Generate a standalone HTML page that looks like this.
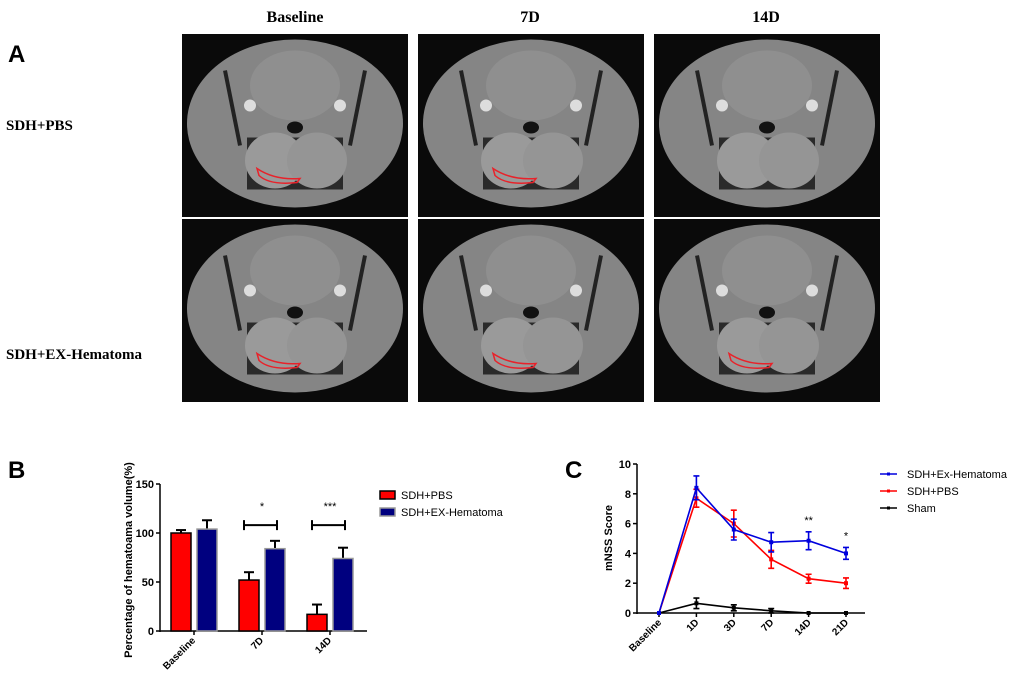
<!DOCTYPE html>
<html><head><meta charset="utf-8">
<style>
body{margin:0;background:#fff;width:1020px;height:681px;overflow:hidden;font-family:"Liberation Sans",sans-serif;}
svg{position:absolute;left:0;top:0}
</style></head>
<body>
<svg id="fig" width="1020" height="681" viewBox="0 0 1020 681">
<g>
<text x="8" y="62" font-size="24" font-weight="bold" font-family="Liberation Sans">A</text>
<text x="295" y="22" font-size="16" font-weight="bold" font-family="Liberation Serif" text-anchor="middle">Baseline</text>
<text x="530" y="22" font-size="16" font-weight="bold" font-family="Liberation Serif" text-anchor="middle">7D</text>
<text x="766" y="22" font-size="16" font-weight="bold" font-family="Liberation Serif" text-anchor="middle">14D</text>
<text x="6" y="130" font-size="15" font-weight="bold" font-family="Liberation Serif">SDH+PBS</text>
<text x="6" y="359" font-size="15" font-weight="bold" font-family="Liberation Serif">SDH+EX-Hematoma</text>
<g id="mri"></g>
</g>
<g id="chartB">
<text x="8" y="478" font-size="24" font-weight="bold">B</text>
</g>
<g id="chartC">
<text x="565" y="478" font-size="24" font-weight="bold">C</text>
</g>
</svg>
<script>
const NS="http://www.w3.org/2000/svg";
function mk(parent,tag,attrs,text){const e=document.createElementNS(NS,tag);for(const k in attrs)e.setAttribute(k,attrs[k]);if(text!==undefined)e.textContent=text;parent.appendChild(e);return e;}

// ---------- MRI panels ----------
const mri=document.getElementById('mri');
const colsX=[182,418,654], rowsY=[34,219];
rowsY.forEach((y0,ri)=>colsX.forEach((x0,ci)=>{
  const g=mk(mri,'g',{});
  
  
  const w=226,h=183,cx=x0+w/2,cy=y0+h/2;
  mk(g,'rect',{x:x0,y:y0,width:w,height:h,fill:'#0a0a0a'});
  mk(g,'ellipse',{cx:cx,cy:cy-2,rx:108,ry:84,fill:'#858585'});
  mk(g,'ellipse',{cx:cx,cy:cy-40,rx:45,ry:35,fill:'#8f8f8f'});
  mk(g,'path',{d:`M${cx-70} ${cy-55} L${cx-55} ${cy+20} M${cx+70} ${cy-55} L${cx+55} ${cy+20}`,stroke:'#222',"stroke-width":4,fill:'none'});
  mk(g,'rect',{x:cx-48,y:cy+12,width:96,height:52,fill:'#2a2a2a'});
  mk(g,'ellipse',{cx:cx-20,cy:cy+35,rx:30,ry:28,fill:'#9a9a9a'});
  mk(g,'ellipse',{cx:cx+22,cy:cy+35,rx:30,ry:28,fill:'#959595'});
  mk(g,'ellipse',{cx:cx,cy:cy+2,rx:8,ry:6,fill:'#111'});
  mk(g,'circle',{cx:cx-45,cy:cy-20,r:6,fill:'#ddd'});
  mk(g,'circle',{cx:cx+45,cy:cy-20,r:6,fill:'#ddd'});
  if(!(ri===0&&ci===2)){
    const p=mk(g,'path',{d:`M${cx-38} ${cy+43} Q${cx-20} ${cy+55} ${cx+5} ${cy+53} L${cx+2} ${cy+57} Q${cx-25} ${cy+60} ${cx-36} ${cy+50} Z`,fill:'none',stroke:'#e8222a',"stroke-width":1.5});
    
    
  }
}));

// ---------- Chart B data ----------
const bCategories=["Baseline","7D","14D"];
const bPBS=[100,52,17];
const bPBSerr=[3,8,10];
const bEX=[104,84,74];
const bEXerr=[9,8,11];
const bTicks=[0,50,100,150];
const bSig=["","*","***"];

(function(){
  const G=document.getElementById('chartB');
  const x0=160,x1=367,yTop=484,yBot=631;
  const ys=v=>yBot-(v/150)*(yBot-yTop);
  const centers=[194,261,330];
  const xc=i=>centers[0]+i*(centers[2]-centers[0])/2;
  mk(G,'line',{x1:x0,y1:yTop,x2:x0,y2:yBot+1,stroke:'#000',"stroke-width":1.5});
  mk(G,'line',{x1:x0,y1:yBot,x2:x1,y2:yBot,stroke:'#000',"stroke-width":1.5});
  bTicks.forEach(t=>{
    mk(G,'line',{x1:x0-4,y1:ys(t),x2:x0,y2:ys(t),stroke:'#000',"stroke-width":1.5});
    const tx=mk(G,'text',{x:x0-6,y:ys(t)+4,"font-size":11,"font-weight":"bold","text-anchor":"end"},t);
    
    
  });
  const yt=mk(G,'text',{x:132,y:560,"font-size":11,"font-weight":"bold","text-anchor":"middle",transform:"rotate(-90 132 560)"},"Percentage of hematoama volume(%)");
  
  
  bCategories.forEach((c,i)=>{
    const cx=xc(i);
    [[bPBS,bPBSerr,'#ff0000','#000',-1],[bEX,bEXerr,'#00007f','#999',1]].forEach(([vals,errs,fill,stroke,side])=>{
      const bx=side<0?cx-23:cx+3;
      const ey=ys(vals[i]+errs[i]);
      mk(G,'line',{x1:bx+10,y1:ys(vals[i]),x2:bx+10,y2:ey,stroke:'#000',"stroke-width":2});
      mk(G,'line',{x1:bx+5,y1:ey,x2:bx+15,y2:ey,stroke:'#000',"stroke-width":2});
      const r=mk(G,'rect',{x:bx,y:ys(vals[i]),width:20,height:yBot-ys(vals[i]),fill:fill,stroke:stroke,"stroke-width":1.5});
      
      
    });
    mk(G,'line',{x1:cx,y1:yBot,x2:cx,y2:yBot+4,stroke:'#000',"stroke-width":1.5});
    const lb=mk(G,'text',{x:cx+2,y:yBot+10,"font-size":10,"font-weight":"bold","text-anchor":"end",transform:`rotate(-45 ${cx+2} ${yBot+10})`},c);
    
    
    if(bSig[i]){
      const yb=ys(108);
      mk(G,'path',{d:`M${cx-18} ${yb-5} V${yb+5} M${cx-18} ${yb} H${cx+15} M${cx+15} ${yb-5} V${yb+5}`,stroke:'#000',"stroke-width":2,fill:'none'});
      const s=mk(G,'text',{x:cx,y:yb-15,"font-size":11,"text-anchor":"middle"},bSig[i]);
      
      
    }
  });
  const leg=[["SDH+PBS",'#ff0000','#000'],["SDH+EX-Hematoma",'#00007f','#999']];
  leg.forEach((l,i)=>{
    const y=491+i*17;
    const g=mk(G,'g',{});
    
    
    mk(g,'rect',{x:380,y:y,width:15,height:8,fill:l[1],stroke:l[2],"stroke-width":1.5});
    mk(g,'text',{x:401,y:y+8,"font-size":11},l[0]);
  });
})();

// ---------- Chart C data ----------
const cCategories=["Baseline","1D","3D","7D","14D","21D"];
const cEX=[0,8.4,5.6,4.75,4.85,4.0];
const cEXerr=[0,0.8,0.7,0.65,0.6,0.4];
const cPBS=[0,7.7,6.0,3.6,2.3,2.0];
const cPBSerr=[0,0.6,0.9,0.6,0.3,0.35];
const cSham=[0,0.65,0.35,0.15,0,0];
const cShamErr=[0,0.35,0.2,0.15,0,0];
const cTicks=[0,2,4,6,8,10];
const cSig=["","","","","**","*"];

(function(){
  const G=document.getElementById('chartC');
  const x0=637,x1=865,yTop=464,yBot=613;
  const ys=v=>yBot-(v/10)*(yBot-yTop);
  const xs=i=>659+i*(846-659)/5;
  mk(G,'line',{x1:x0,y1:yTop,x2:x0,y2:yBot+1,stroke:'#000',"stroke-width":1.5});
  mk(G,'line',{x1:x0,y1:yBot,x2:x1,y2:yBot,stroke:'#000',"stroke-width":1.5});
  cTicks.forEach(t=>{
    mk(G,'line',{x1:x0-4,y1:ys(t),x2:x0,y2:ys(t),stroke:'#000',"stroke-width":1.5});
    const tx=mk(G,'text',{x:x0-6,y:ys(t)+4,"font-size":11,"font-weight":"bold","text-anchor":"end"},t);
    
    
  });
  const yt=mk(G,'text',{x:612,y:538,"font-size":11,"font-weight":"bold","text-anchor":"middle",transform:"rotate(-90 612 538)"},"mNSS Score");
  
  
  cCategories.forEach((c,i)=>{
    mk(G,'line',{x1:xs(i),y1:yBot,x2:xs(i),y2:yBot+4,stroke:'#000',"stroke-width":1.5});
    const lb=mk(G,'text',{x:xs(i)+3,y:yBot+10,"font-size":10,"font-weight":"bold","text-anchor":"end",transform:`rotate(-45 ${xs(i)+3} ${yBot+10})`},c);
    
    
    if(cSig[i]){
      const s=mk(G,'text',{x:xs(i),y:ys(cEX[i]+cEXerr[i])-8,"font-size":11,"text-anchor":"middle"},cSig[i]);
      
      
    }
  });
  const series=[[cSham,cShamErr,'#000','sham'],[cPBS,cPBSerr,'#ff0000','sdh-pbs'],[cEX,cEXerr,'#0000dd','sdh-ex-hematoma']];
  series.forEach(([v,e,col,nm])=>{
    const g=mk(G,'g',{});
    
    
    const l=mk(g,'polyline',{points:v.map((d,i)=>xs(i)+','+ys(d)).join(' '),fill:'none',stroke:col,"stroke-width":1.6});
    
    
    v.forEach((d,i)=>{
      if(e[i]>0){
        mk(g,'path',{d:`M${xs(i)} ${ys(d-e[i])} V${ys(d+e[i])} M${xs(i)-3} ${ys(d-e[i])} h6 M${xs(i)-3} ${ys(d+e[i])} h6`,stroke:col,"stroke-width":1.6,fill:'none'});
      }
      const p=mk(g,'rect',{x:xs(i)-2,y:ys(d)-2,width:4,height:4,fill:col});
      
      
    });
  });
  const leg=[["SDH+Ex-Hematoma",'#0000dd'],["SDH+PBS",'#ff0000'],["Sham",'#000']];
  leg.forEach((l,i)=>{
    const y=474+i*17;
    const g=mk(G,'g',{});
    
    
    mk(g,'line',{x1:880,y1:y,x2:897,y2:y,stroke:l[1],"stroke-width":1.6});
    mk(g,'rect',{x:887,y:y-1.5,width:3,height:3,fill:l[1]});
    mk(g,'text',{x:907,y:y+4,"font-size":11},l[0]);
  });
})();
</script>
</body></html>
